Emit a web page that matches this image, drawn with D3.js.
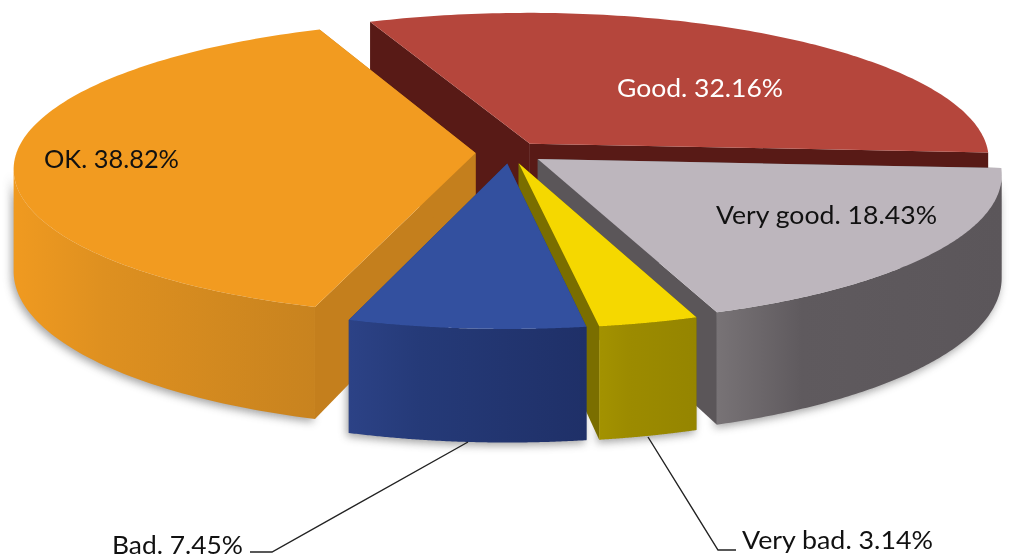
<!DOCTYPE html>
<html>
<head>
<meta charset="utf-8">
<script src="https://cdn.jsdelivr.net/npm/d3@7/dist/d3.min.js"></script>
<style>html,body{margin:0;padding:0;background:#fff}svg{display:block;filter:blur(0.45px)}</style>
</head>
<body>
<svg id="chart" width="1010" height="560"></svg>
<script>
const categories = ["Good", "Very good", "Very bad", "Bad", "OK"];
const values = [32.16, 18.43, 3.14, 7.45, 38.82];
const topColors = ["#b5463c", "#bdb6bd", "#f5d800", "#33509f", "#f29b20"];
const cutColors = ["#581a16", "#5b5659", "#7a6e00", "#24376f", "#c47f1d"];
const rimStops = [
  ["#5a1a16", "#5a1a16", "#5a1a16"],
  ["#787376", "#5f5a5e", "#5b565a"],
  ["#a39200", "#9c8b00", "#958500"],
  ["#2c4286", "#253a78", "#1f3068"],
  ["#f09a20", "#de9020", "#c8831f"]
];
const labelColors = ["#ffffff", "#111111", "#111111", "#111111", "#111111"];
const drawOrder = ["Good", "Very good", "OK", "Very bad", "Bad"];

const svg = d3.select("#chart");
const cx = 510, cy = 152.5, rx = 459, ry = 146, persp = 0.103, depth = 101, explode = 0.075;
const angStart = -22.3 * Math.PI / 180;

const arcs = d3.pie().sort(null).value(d => d)
  .startAngle(angStart).endAngle(angStart + 2 * Math.PI)(values);

function project(u, v, z) {
  const s = 1 / (1 - persp * v);
  return [cx + rx * u * s, cy + ry * v * s + z * s];
}
const defs = svg.append("defs");
const line = d3.line();
defs.append("filter").attr("id", "soft").attr("x", "-10%").attr("y", "-10%").attr("width", "120%").attr("height", "120%")
  .append("feGaussianBlur").attr("stdDeviation", 4);

arcs.forEach((a, i) => { a.cat = categories[i]; a.i = i; a.mid = (a.startAngle + a.endAngle) / 2; });

function geometry(a) {
  const ou = explode * Math.sin(a.mid), ov = -explode * Math.cos(a.mid);
  const steps = d3.range(0, 121).map(k => a.startAngle + (a.endAngle - a.startAngle) * k / 120);
  const edge = steps.map(t => [ou + Math.sin(t), ov - Math.cos(t)]);
  const topPts = edge.map(p => project(p[0], p[1], 0));
  const visible = edge.filter((p, k) => {
    const x = topPts[k][0];
    return (k < edge.length - 1 && topPts[k + 1][0] < x) || (k > 0 && topPts[k - 1][0] > x);
  });
  return {apex: [ou, ov], edge, topPts, visible};
}

const shadow = svg.append("g").attr("filter", "url(#soft)").attr("opacity", 0.55).attr("transform", "translate(-2,3)");

drawOrder.forEach(name => {
  const a = arcs.find(d => d.cat === name), i = a.i;
  const {apex, edge, topPts, visible} = geometry(a);
  const g = svg.append("g").attr("class", "slice");
  const cut = p => [project(apex[0], apex[1], 0), project(p[0], p[1], 0), project(p[0], p[1], depth), project(apex[0], apex[1], depth)];
  [edge[0], edge[edge.length - 1]].forEach(p => {
    g.append("path").attr("d", line(cut(p)) + "Z").attr("fill", cutColors[i]);
  });
  if (visible.length > 1) {
    const rimTop = visible.map(p => project(p[0], p[1], 0));
    const rimBot = visible.map(p => project(p[0], p[1], depth));
    const grad = defs.append("linearGradient").attr("id", "rim" + i).attr("gradientUnits", "userSpaceOnUse")
      .attr("x1", d3.min(rimTop, p => p[0])).attr("x2", d3.max(rimTop, p => p[0])).attr("y1", 0).attr("y2", 0);
    const stops = rimStops[i];
    [0, 0.3, 1].forEach((o, k) => grad.append("stop").attr("offset", o).attr("stop-color", stops[k]));
    const d = line(rimTop.concat(rimBot.slice().reverse())) + "Z";
    g.append("path").attr("d", d).attr("fill", `url(#rim${i})`);
    shadow.append("path").attr("d", d).attr("fill", "#555");
  }
  g.append("path").attr("d", line([project(apex[0], apex[1], 0)].concat(topPts)) + "Z").attr("fill", topColors[i]);
});

const font = "Lato, 'Open Sans', sans-serif";
const labels = [
  {t: "Good. 32.16%", x: 617, y: 97, w: 166, i: 0},
  {t: "Very good. 18.43%", x: 716, y: 224, w: 221, i: 1},
  {t: "OK. 38.82%", x: 44, y: 168, w: 135, i: 4},
  {t: "Bad. 7.45%", x: 112, y: 554, w: 131, i: 3},
  {t: "Very bad. 3.14%", x: 742, y: 549, w: 191, i: 2}
];
svg.selectAll("text.lbl").data(labels).join("text").attr("class", "lbl")
  .attr("x", d => d.x).attr("y", d => d.y)
  .attr("textLength", d => d.w).attr("lengthAdjust", "spacingAndGlyphs")
  .attr("font-family", font).attr("font-size", 25)
  .attr("fill", d => labelColors[d.i]).text(d => d.t);

const leaders = [[[250, 552], [272, 552], [468, 442]], [[648, 437], [718, 550], [736, 550]]];
leaders.forEach(l => svg.append("path").attr("d", line(l)).attr("fill", "none").attr("stroke", "#222").attr("stroke-width", 1.4));
</script>
</body>
</html>
